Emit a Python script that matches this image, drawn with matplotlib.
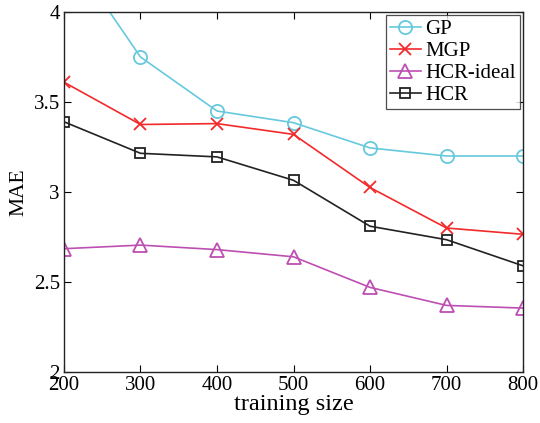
import numpy as np
import matplotlib.pyplot as plt

plt.rcParams['font.family'] = ['Liberation Serif', 'DejaVu Serif']

# training sizes and MAE values
sizes = [200, 300, 400, 500, 600, 700, 800]
gp = [4.37, 3.75, 3.45, 3.385, 3.245, 3.2, 3.2]
mgp = [3.61, 3.375, 3.38, 3.32, 3.025, 2.80, 2.765]
hcr_ideal = [2.685, 2.705, 2.68, 2.64, 2.47, 2.37, 2.355]
hcr = [3.39, 3.215, 3.195, 3.065, 2.81, 2.735, 2.59]

fig = plt.figure(figsize=(5.4, 4.23), dpi=100)
ax = fig.add_axes([64/540, 1 - 372/423, (523-64)/540, (372-12)/423])

ax.plot(sizes, gp, color='#66C9DD', marker='o', ms=9.5, mfc='none', mew=1.3, lw=1.2, label='GP')
ax.plot(sizes, mgp, color='#F22A2A', marker='x', ms=8, mew=1.3, lw=1.2, label='MGP')
ax.plot(sizes, hcr_ideal, color='#BD4FB2', marker='^', ms=10, mfc='none', mew=1.3, lw=1.2, label='HCR-ideal')
ax.plot(sizes, hcr, color='#222222', marker='s', ms=7.5, mfc='none', mew=1.3, lw=1.2, label='HCR')

ax.set_xlim(200, 800)
ax.set_ylim(2, 4)
ax.set_xticks(sizes)
ax.set_yticks([2, 2.5, 3, 3.5, 4])
ax.set_yticklabels(['2', '2.5', '3', '3.5', '4'])
ax.tick_params(direction='in', top=True, right=True, labelsize=15, length=5, width=0.8, pad=3)
for s in ax.spines.values():
    s.set_linewidth(1.0)
    s.set_color('#222222')

ax.set_xlabel('training size', fontsize=17.5, labelpad=-1)
ax.set_ylabel('MAE', fontsize=15.5, labelpad=4)

leg = ax.legend(loc='upper right', fontsize=15, frameon=True, fancybox=False,
                edgecolor='#222222', borderaxespad=0.15, handlelength=1.5,
                handletextpad=0.2, labelspacing=0.12, borderpad=0.2,
                bbox_to_anchor=(1.0, 1.0))
leg.get_frame().set_linewidth(0.9)

fig.savefig('out.png', dpi=100)
